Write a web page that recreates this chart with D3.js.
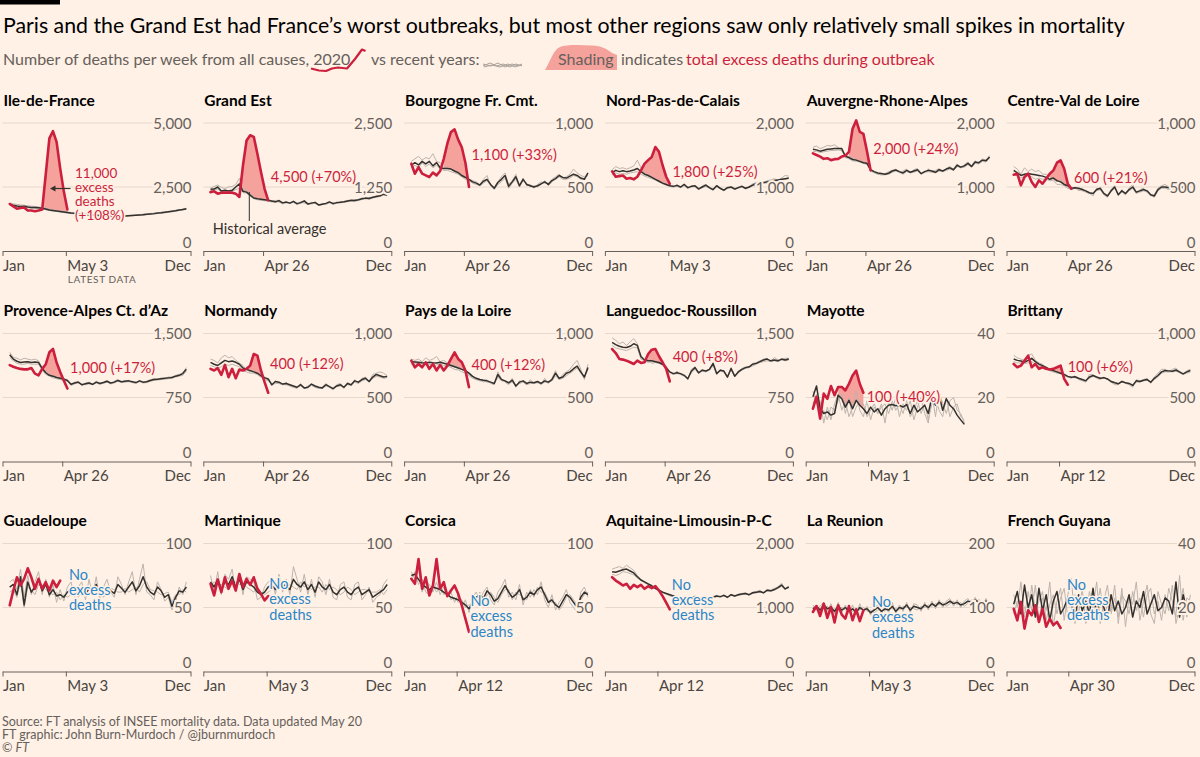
<!DOCTYPE html>
<html><head><meta charset="utf-8">
<script src="https://cdn.jsdelivr.net/npm/d3@7"></script>
<style>
html,body{margin:0;padding:0;background:#fff1e5;}
svg{display:block;}
text{font-family:Lato,"Noto Sans",sans-serif;}
</style></head><body>
<svg id="chart" width="1200" height="757"></svg>
<script>
// ---------------- DATA ----------------
const regions = ["Ile-de-France","Grand Est","Bourgogne Fr. Cmt.","Nord-Pas-de-Calais","Auvergne-Rhone-Alpes","Centre-Val de Loire",
  "Provence-Alpes Ct. d\u2019Az","Normandy","Pays de la Loire","Languedoc-Roussillon","Mayotte","Brittany",
  "Guadeloupe","Martinique","Corsica","Aquitaine-Limousin-P-C","La Reunion","French Guyana"];
const latestLabels = ["May 3","Apr 26","Apr 26","May 3","Apr 26","Apr 26","Apr 26","Apr 26","Apr 26","Apr 26","May 1","Apr 12",
  "May 3","May 3","Apr 12","Apr 12","May 3","Apr 30"];
const latestDates = ["2020-05-03","2020-04-26","2020-04-26","2020-05-03","2020-04-26","2020-04-26","2020-04-26","2020-04-26","2020-04-26","2020-04-26","2020-05-01","2020-04-12",
  "2020-05-03","2020-05-03","2020-04-12","2020-04-12","2020-05-03","2020-04-30"];
const yMax = [5000,2500,1000,2000,2000,1000,1500,1000,1000,1500,40,1000,100,100,100,2000,200,40];
const excessLabels = [["11,000","excess","deaths","(+108%)"],["4,500 (+70%)"],["1,100 (+33%)"],["1,800 (+25%)"],["2,000 (+24%)"],["600 (+21%)"],
  ["1,000 (+17%)"],["400 (+12%)"],["400 (+12%)"],["400 (+8%)"],["100 (+40%)"],["100 (+6%)"],
  ["No","excess","deaths"],["No","excess","deaths"],["No","excess","deaths"],["No","excess","deaths"],["No","excess","deaths"],["No","excess","deaths"]];
// first and last week index of the shaded outbreak (null = no excess)
const outbreakWeeks = [[9,16],[8,16],[9,16],[8,16],[10,16],[10,16],[9,15],[10,15],[9,15],[10,15],[7,14],[10,14],null,null,null,null,null,null];

// weekly deaths, 2020
const series2020 = [
 [1835,1745,1650,1680,1700,1580,1580,1550,1580,1620,3000,4400,4680,4260,3230,2330,1620],
 [1150,1165,1120,1140,1140,1140,1140,1120,1055,1670,2160,2260,2230,1900,1545,1215,990],
 [682,604,656,604,591,578,612,591,625,720,840,930,950,870,810,690,500],
 [1245,1160,1170,1180,1130,1140,1120,1160,1260,1365,1420,1470,1625,1550,1340,1160,1050],
 [1525,1500,1475,1440,1450,1420,1435,1440,1475,1490,1550,1910,2040,1860,1830,1560,1260],
 [596,604,513,578,604,539,500,552,526,565,604,630,690,708,643,526,487],
 [1130,1110,1095,1085,1080,1080,1095,1030,1010,1085,1140,1280,1320,1160,1050,950,855],
 [724,711,729,677,755,659,724,651,718,711,724,749,840,827,711,620,537],
 [788,736,762,736,775,724,762,711,755,711,749,801,853,801,775,711,581],
 [1318,1271,1202,1194,1182,1163,1143,1182,1155,1163,1260,1310,1318,1233,1163,1085,938],
 [16.5,20.2,13.4,21.2,19.6,23.6,20.7,23.3,23.3,22.2,24.3,26.9,28.4,24.3,21.5],
 [762,736,749,788,827,736,762,724,736,724,718,724,736,749,646,600],
 [51.7,63.3,73.6,67.2,72.4,80.6,73.6,64.6,72.4,64.6,69.8,63.3,71,65.9,71],
 [68.5,59.4,71.8,62,73.6,64.6,71,63.3,76.2,65.9,72.4,67.7,73.6,64.6,60.7,55.6,58.9],
 [72.4,68.5,87.9,64.6,73.6,59.4,67.2,87.9,64.6,69.8,58.9,63.3,67.2,60.7,51.7,41.3,31],
 [1473,1421,1385,1344,1370,1292,1354,1318,1354,1292,1333,1302,1333,1266,1178,1075,972],
 [93,102.3,86.8,106,83.7,100.8,76.5,103.4,88.9,82.7,102.3,80.1,97.2,78.6,95.6],
 [19.6,16,21.7,13.4,19.1,17.6,20.7,15.5,19.6,14,16.5,14.5,15.5,13.6]
];

// historical average
const avgSeries = [
 [1830,1790,1760,1740,1750,1720,1700,1700,1690,1670,1640,1600,1580,1560,1540,1520,1500,1480,1470,1450,1440,1430,1420,1410,1400,1390,1380,1380,1370,1370,1360,1360,1370,1380,1390,1400,1410,1420,1440,1450,1460,1480,1490,1510,1530,1550,1570,1600,1620,1650],
 [1205,1210,1250,1170,1185,1170,1185,1250,1310,1165,1150,1090,1035,1020,1010,1000,990,975,960,985,940,955,935,970,925,945,980,920,935,950,900,915,930,960,925,945,950,960,975,990,985,1000,1020,1035,1025,1050,1065,1080,1110,1095],
 [670,690,672,700,680,700,665,690,650,645,645,640,625,612,590,575,560,540,530,515,545,560,520,490,535,560,590,505,540,580,510,560,520,510,500,510,525,540,520,550,565,590,575,570,585,600,590,570,560,610],
 [1225,1260,1240,1255,1240,1250,1265,1290,1240,1200,1180,1150,1120,1090,1060,1040,1020,1010,1025,1000,1040,990,1010,1020,970,1000,1030,990,960,1020,980,950,990,1000,970,990,1010,980,1000,1030,1050,1060,1070,1080,1090,1100,1110,1120,1130,1140],
 [1590,1580,1560,1575,1590,1595,1600,1600,1600,1480,1460,1430,1420,1400,1380,1370,1270,1240,1220,1210,1200,1215,1250,1265,1240,1220,1260,1230,1250,1270,1210,1240,1260,1250,1230,1270,1250,1280,1300,1270,1340,1310,1330,1370,1320,1390,1380,1420,1410,1470],
 [630,610,590,600,605,600,595,590,585,575,560,570,550,540,520,510,490,495,490,480,470,455,450,480,490,450,430,470,500,440,470,450,480,500,460,470,480,470,440,430,480,500,500,495,490,490,500,500,510,505],
 [1250,1200,1175,1160,1165,1170,1160,1165,1160,1090,1040,1010,1000,985,975,965,950,905,920,930,900,910,920,905,930,915,925,940,920,930,950,935,940,945,935,925,945,930,935,950,960,965,970,975,980,985,1000,1010,1030,1080],
 [775,760,750,770,790,780,785,775,760,730,720,710,700,690,670,655,645,600,625,620,605,610,600,590,580,600,575,580,605,590,580,575,600,585,570,590,600,580,610,600,630,620,640,650,625,660,680,670,660,665],
 [780,778,775,772,770,775,772,770,775,768,760,750,740,730,720,710,690,665,650,640,635,630,620,610,680,640,630,615,635,590,620,630,610,620,615,625,610,630,620,640,690,650,660,690,700,725,745,700,660,735],
 [1395,1370,1350,1340,1335,1350,1380,1360,1230,1190,1180,1180,1170,1160,1140,1100,1050,1030,1040,1030,1010,970,1060,1100,1040,1070,1060,1080,1150,1030,1070,1060,990,1090,1000,1050,1080,1100,1110,1140,1150,1170,1190,1200,1180,1190,1180,1200,1190,1200],
 [20.2,23.6,16.5,15,15.5,14.5,15,20.7,19.6,17,19.1,16.5,19.1,17.6,16.5,15,17,15.5,16.5,14.5,16.5,17.6,17.8,17.4,17.6,17,17.8,15,17.6,15.5,16.5,17.6,15,20.2,17.6,20.7,16,19.6,17.6,16.5,14.5,13,11.6],
 [801,790,785,775,790,806,780,760,749,735,720,710,700,690,680,665,659,662,650,640,630,660,672,660,650,655,645,625,615,607,625,615,610,594,630,625,635,640,620,650,672,700,711,708,705,715,700,685,700,711],
 [66,68,60,74,52,70,62,66,72,63,68,60,64,59,60,58,62,64,61,62,66,60,65,63,68,60,62,66,63,61,68,65,62,66,70,63,67,74,66,62,60,66,63,58,60,51,58,63,62,66],
 [70,66,72,64,70,68,74,66,72,64,70,68,66,62,60,62,66,68,64,70,66,68,64,72,68,66,70,64,68,62,70,66,64,68,62,60,64,66,62,60,64,66,60,62,64,58,60,62,64,68],
 [75,76,72,68,66,64,66,65,64,62,60,58,57,56,54,52,49,54,58,60,57,63,60,55,57,62,67,62,58,60,64,56,58,62,60,64,66,60,54,56,52,50,55,60,58,54,50,58,62,60],
 [1560,1550,1570,1590,1600,1570,1540,1480,1430,1400,1370,1340,1300,1270,1240,1220,1200,1180,1160,1150,1140,1150,1160,1170,1150,1130,1160,1140,1160,1180,1170,1190,1160,1200,1180,1200,1210,1220,1200,1230,1240,1250,1230,1270,1260,1280,1310,1350,1290,1320],
 [98,102,96,104,98,100,94,102,96,100,94,98,92,100,96,98,92,96,100,94,98,96,102,94,100,98,104,96,102,100,98,104,100,106,102,108,104,106,110,106,108,104,106,110,108,112,108,106,110,104],
 [21,25,18,27,20,24,17,26,19,24,16,22,25,18,20,23,21,17,24,19,22,18,26,17,23,20,16,24,19,22,18,20,24,17,22,20,25,18,21,24,19,20,23,22,18,28,17,24,19,21]
];

// recent individual years (two of them)
const recentA = [
 [1880,1840,1820,1800,1790,1770,1750,1740,1720,1700,1680,1640,1610,1580,1560,1540,1520,1500,1480,1470,1450,1440,1430,1420,1410,1400,1390,1390,1380,1380,1370,1370,1380,1390,1400,1410,1420,1440,1450,1470,1480,1490,1510,1520,1540,1560,1590,1610,1640,1670],
 [1230,1260,1290,1240,1220,1250,1260,1300,1420,1200,1180,1110,1050,1030,1000,995,980,960,990,950,930,965,940,950,910,960,935,910,950,930,890,930,910,940,940,930,965,950,990,980,1000,990,1035,1020,1050,1040,1080,1070,1100,1120],
 [700,720,740,710,730,720,760,700,690,660,650,640,620,600,580,570,560,550,540,520,560,590,510,500,540,580,610,520,550,600,500,570,510,520,490,520,540,530,530,560,580,600,570,580,600,640,610,590,580,600],
 [1270,1320,1290,1300,1280,1300,1330,1420,1300,1220,1190,1160,1130,1100,1070,1040,1020,1000,1040,990,1050,980,1020,1000,960,1020,1040,980,950,1030,970,940,1000,990,960,1000,1020,970,1010,1050,1070,1080,1060,1100,1110,1130,1100,1140,1180,1170],
 [1620,1640,1600,1620,1650,1640,1660,1620,1560,1500,1470,1450,1430,1410,1390,1370,1280,1230,1200,1190,1210,1240,1260,1280,1220,1250,1280,1220,1270,1290,1200,1230,1280,1240,1260,1290,1240,1290,1320,1280,1360,1300,1350,1390,1330,1410,1360,1440,1420,1490],
 [660,640,600,650,620,640,620,630,600,600,580,560,540,560,520,500,480,500,470,490,460,450,430,490,480,440,420,480,510,430,480,440,490,520,450,480,490,460,430,440,490,510,520,500,500,490,510,530,520,520],
 [1280,1220,1210,1190,1210,1200,1190,1200,1180,1100,1050,1020,990,990,980,970,960,900,930,940,890,920,930,900,940,920,930,950,910,940,960,930,950,950,930,920,950,930,940,960,970,960,980,970,990,990,1010,1020,1040,1100],
 [800,790,770,810,830,810,820,790,770,750,720,700,710,680,660,650,640,590,630,610,600,620,590,580,570,610,570,590,600,580,570,580,610,580,560,600,610,570,620,590,640,610,650,660,620,680,690,700,690,670],
 [800,790,800,780,810,790,800,820,780,790,770,760,750,740,720,700,680,660,640,640,620,640,610,600,700,650,620,600,650,580,630,620,600,640,610,620,600,650,610,650,710,640,680,700,720,760,790,720,640,760],
 [1450,1420,1380,1400,1360,1400,1440,1380,1220,1170,1200,1150,1160,1150,1130,1120,1040,1020,1060,1020,1000,960,1080,1110,1030,1080,1050,1090,1140,1020,1080,1050,980,1100,990,1060,1090,1110,1100,1150,1160,1180,1200,1210,1170,1220,1190,1190,1210,1210],
 [22,18,19,12,17,13,18,21,16,19,14,17,22,16,14,19,13,17,15,18,12,19,16,20,14,18,16,19,13,17,20,15,12,21,14,22,18,15,19,20,16,15,12],
 [830,810,800,790,830,840,790,770,760,730,710,700,690,690,670,660,650,670,640,630,620,680,680,650,640,660,640,620,600,600,630,610,600,580,640,630,640,650,610,660,690,720,720,700,720,730,690,680,710,720],
 [70,72,64,80,58,75,60,70,78,60,72,58,68,54,64,55,66,70,58,66,70,56,72,60,74,56,66,72,62,58,74,68,60,70,78,60,72,84,62,60,56,70,64,55,58,48,54,66,60,70],
 [75,62,78,60,76,72,80,62,76,60,74,72,70,56,58,66,70,72,60,76,62,72,60,82,72,62,76,60,72,58,74,70,60,72,58,56,68,70,58,56,68,70,56,60,66,54,58,60,68,72],
 [78,72,80,62,70,68,62,70,60,66,58,62,54,60,50,56,46,58,62,56,62,66,56,52,62,66,72,58,62,56,68,52,62,58,64,60,70,56,50,60,48,54,58,64,54,50,46,62,66,58],
 [1600,1620,1640,1610,1660,1620,1580,1500,1440,1380,1360,1320,1290,1260,1230,1210,1180,1170,1150,1140,1130,1160,1150,1180,1140,1120,1170,1130,1170,1190,1160,1200,1150,1210,1170,1210,1220,1230,1190,1240,1250,1270,1220,1280,1270,1300,1320,1380,1280,1340],
 [104,96,102,108,94,106,90,108,92,104,90,104,88,106,92,102,88,100,104,90,102,92,108,90,104,94,108,92,106,104,94,108,96,110,98,112,100,110,114,102,112,100,110,114,104,116,104,102,114,100],
 [24,20,28,17,25,19,27,16,23,19,28,14,22,26,16,24,29,15,22,24,17,25,20,28,15,22,27,18,23,17,26,14,23,21,28,16,22,27,18,15,25,21,18,26,22,17,30,16,23,22]
];
const recentB = [
 [1790,1750,1720,1710,1720,1690,1670,1670,1660,1640,1610,1580,1560,1540,1520,1500,1480,1460,1450,1440,1420,1410,1400,1390,1380,1380,1370,1360,1360,1350,1350,1350,1360,1370,1380,1390,1400,1400,1420,1430,1440,1460,1470,1490,1510,1530,1550,1580,1600,1630],
 [1180,1190,1210,1150,1160,1140,1160,1200,1220,1140,1130,1070,1020,1000,990,980,975,960,950,970,920,940,930,950,910,930,960,910,920,935,890,905,920,945,910,930,940,950,960,975,970,985,1005,1020,1010,1035,1050,1065,1090,1080],
 [650,670,650,690,660,680,650,670,640,630,630,620,610,600,580,560,550,530,520,510,530,550,510,480,520,540,570,490,530,560,500,550,530,500,510,500,520,550,510,540,560,580,560,560,570,590,580,560,570,590],
 [1190,1220,1200,1210,1200,1220,1230,1240,1200,1170,1150,1130,1110,1080,1050,1030,1010,1000,1010,990,1020,980,1000,1010,960,990,1010,980,950,1000,970,940,980,990,960,980,1000,970,990,1020,1030,1050,1060,1060,1080,1090,1100,1110,1120,1130],
 [1550,1560,1540,1550,1560,1570,1570,1580,1570,1460,1440,1410,1400,1390,1370,1350,1250,1220,1200,1190,1190,1200,1230,1250,1230,1200,1240,1220,1230,1250,1200,1230,1240,1230,1220,1250,1240,1260,1280,1260,1320,1300,1310,1350,1310,1370,1360,1400,1390,1450],
 [610,590,570,580,590,580,560,570,560,560,550,550,520,520,510,490,480,490,480,470,460,450,450,470,480,440,430,460,490,440,460,440,470,490,450,460,470,460,440,420,470,490,490,480,480,480,490,490,500,490],
 [1220,1180,1150,1140,1140,1150,1140,1140,1140,1070,1020,1000,980,970,960,950,940,890,910,920,900,900,910,900,920,905,915,930,910,920,940,925,930,935,925,915,935,920,925,940,950,955,960,965,970,975,990,1000,1010,1060],
 [750,740,730,740,760,750,760,750,740,710,700,690,690,680,660,640,630,600,610,610,600,600,590,580,580,590,570,575,595,580,575,570,590,580,570,585,590,575,600,595,620,610,630,640,620,650,665,660,650,655],
 [760,770,760,765,755,760,750,755,760,750,745,735,720,715,700,690,670,650,640,630,630,620,615,605,660,630,625,610,620,590,610,620,600,610,610,615,605,620,615,630,670,640,650,670,690,710,730,690,650,720],
 [1360,1330,1320,1310,1300,1320,1340,1330,1200,1180,1160,1170,1160,1150,1130,1090,1050,1020,1030,1020,1000,980,1040,1080,1030,1060,1050,1070,1120,1030,1060,1050,1000,1070,1000,1040,1070,1090,1100,1120,1140,1160,1170,1180,1170,1180,1170,1190,1180,1190],
 [18,21,14,16,13,17,16,19,21,15,20,14,17,19,18,14,16,18,15,17,18,15,19,16,18,15,19,14,16,19,15,18,13,18,20,16,14,20,14,17,18,14,13],
 [780,770,770,765,770,780,760,745,735,720,710,700,695,685,675,660,655,655,645,640,635,650,665,655,650,650,645,630,620,610,620,615,610,600,620,620,630,635,620,640,660,690,700,700,700,705,695,680,690,700],
 [62,64,58,70,50,66,64,60,68,66,64,62,60,62,56,60,58,60,64,58,62,63,60,66,62,63,58,62,65,64,62,62,65,62,64,66,62,68,70,64,63,62,60,61,62,54,60,60,64,62],
 [66,70,68,68,66,64,70,70,68,68,66,64,62,66,62,60,62,64,68,66,70,64,68,66,64,70,66,68,64,66,66,62,68,64,66,64,60,62,66,64,60,62,64,64,62,62,62,64,60,64],
 [72,78,68,72,62,60,68,62,66,60,62,56,58,54,56,50,52,52,56,62,54,60,62,58,54,60,64,64,56,62,60,58,56,64,58,66,62,62,56,54,54,48,52,58,60,56,52,56,60,62],
 [1520,1500,1520,1560,1550,1530,1510,1460,1420,1390,1360,1330,1300,1260,1240,1220,1200,1180,1160,1150,1140,1140,1150,1160,1150,1130,1150,1140,1150,1170,1160,1180,1160,1190,1180,1190,1200,1210,1200,1220,1230,1240,1230,1260,1250,1270,1300,1330,1290,1310],
 [92,104,92,100,102,96,98,98,100,96,98,94,96,96,100,94,96,92,96,98,94,100,98,98,96,102,100,100,98,96,102,100,104,102,106,104,108,102,106,110,104,108,102,106,112,108,112,110,106,108],
 [18,22,22,20,17,27,19,22,25,16,21,24,18,23,26,17,19,24,18,26,15,21,23,20,26,17,21,19,27,15,24,22,18,25,19,23,17,24,26,18,22,16,24,19,27,15,20,26,17,24]
];

// ---------------- LAYOUT ----------------
const paper = "#fff1e5", red = "#cc1f3d", shadeCol = "#f5a29c", blue = "#2a86c8",
      dark = "#33302e", greyLine = "#bdb4ad", gridCol = "#e6d8cc", tickTextCol = "#66605c", axisTextCol = "#4a4542";
const panelW = 188, panelStep = 200.8, panelX0 = 2.5, plotH = 128;
const rowZero = [251, 461.5, 671.5];
// annotation anchor (relative to panel origin), line spacing and font size
const annoPos = [[72.5,-73.5,14,13.5],[67.5,-69.5,0,14.5],[67.5,-91,0,14.5],[67.5,-74.5,0,14.5],[67.5,-97.5,0,14.5],[67.5,-68,0,14.5],
  [67.5,-88.5,0,14.5],[66.7,-92.5,0,14.5],[67.4,-92,0,14.5],[67.8,-100,0,14.5],[61,-59.5,0,14.5],[61.2,-89.5,0,14.5],
  [66.5,-92,15.4,14.5],[66,-82.5,15.4,14.5],[66.4,-65.5,15.4,14.5],[66.9,-82,15.4,14.5],[66.3,-64.5,15.4,14.5],[60.5,-82,15.4,14.5]];

const svg = d3.select("#chart");
svg.append("rect").attr("width",1200).attr("height",757).attr("fill",paper);
svg.append("rect").attr("x",0).attr("y",0).attr("width",60).attr("height",4.5).attr("fill","#000");

// Title
svg.append("text").attr("x",3).attr("y",33).attr("font-size",21.3).attr("fill","#000")
  .text("Paris and the Grand Est had France\u2019s worst outbreaks, but most other regions saw only relatively small spikes in mortality");

// Subtitle with inline legend
const sub = svg.append("g").attr("font-size",16).attr("fill",tickTextCol);
sub.append("text").attr("x",3).attr("y",65).text("Number of deaths per week from all causes, 2020");
sub.append("path").attr("d","M311,68.5 L319,70.5 L326,71 L332,68.5 L338,67.5 L347,68.5 L355,59 L362,49.5 L365.5,51")
  .attr("fill","none").attr("stroke",red).attr("stroke-width",2.2).attr("stroke-linejoin","round");
sub.append("text").attr("x",371).attr("y",65).text("vs recent years:");
["M483,66 L490,63 L497,66 L503,64 L510,67 L516,64 L522,66","M483,64 L491,66 L498,63 L505,67 L512,64 L518,66 L522,65","M484,67 L492,65 L500,67 L508,64 L515,67 L522,64"]
  .forEach(d=>sub.append("path").attr("d",d).attr("fill","none").attr("stroke","#aaa29b").attr("stroke-width",1));
sub.append("path").attr("d","M545,70 C550,62 553,50 560,47 C566,44.5 580,45 592,45.5 C602,46 607,49 612,53 L617,55 L617,70 Z")
  .attr("fill",shadeCol);
sub.append("text").attr("x",558).attr("y",65).text("Shading");
sub.append("text").attr("x",621).attr("y",65).text("indicates");
sub.append("text").attr("x",686).attr("y",65).attr("fill",red).text("total excess deaths during outbreak");

// Scales shared
const x = d3.scaleTime().domain([new Date(2020,0,1), new Date(2020,11,31)]).range([0, panelW]);
const weekDate = i => d3.timeDay.offset(new Date(2020,0,1), 14 + 7*i);
const parseDate = d3.timeParse("%Y-%m-%d");
const fmt = d3.format(",");

regions.forEach((name, p) => {
  const col = p % 6, row = Math.floor(p / 6);
  const g = svg.append("g").attr("transform", `translate(${panelX0 + panelStep*col},${rowZero[row]})`);
  const y = d3.scaleLinear().domain([0, yMax[p]]).range([0, -plotH]);
  const ticks = [0, yMax[p]/2, yMax[p]];

  // title
  g.append("text").attr("x",1).attr("y",-145.5).attr("font-size",15.5).attr("font-weight",700)
    .attr("fill","#000").text(name);

  // gridlines
  g.selectAll("line.grid").data(ticks.slice(1)).join("line").attr("class","grid")
    .attr("x1",0).attr("x2",panelW).attr("y1",d=>y(d)).attr("y2",d=>y(d))
    .attr("stroke",gridCol).attr("stroke-width",1);

  const avg = avgSeries[p], r20 = series2020[p];
  const line = d3.line().x((d,i)=>x(weekDate(i))).y(d=>y(d));

  // shading of excess
  const ob = outbreakWeeks[p];
  if (ob) {
    const area = d3.area()
      .defined((d,i)=> i>=ob[0] && i<=ob[1])
      .x((d,i)=>x(weekDate(i)))
      .y0((d,i)=>y(avg[i]))
      .y1((d,i)=>y(Math.max(d, avg[i])));
    g.append("path").datum(r20).attr("d",area).attr("fill",shadeCol);
  }
  // recent years
  [recentA[p], recentB[p]].forEach(s => g.append("path").datum(s).attr("d",line)
    .attr("fill","none").attr("stroke",greyLine).attr("stroke-width",1).attr("stroke-linejoin","round"));
  // historical average
  g.append("path").datum(avg).attr("d",line).attr("fill","none").attr("stroke",dark)
    .attr("stroke-width",1.5).attr("stroke-linejoin","round");
  // 2020
  g.append("path").datum(r20).attr("d",line).attr("fill","none").attr("stroke",red)
    .attr("stroke-width",2.6).attr("stroke-linejoin","round").attr("stroke-linecap","round");

  // x axis
  const latest = parseDate(latestDates[p]);
  const tickVals = [new Date(2020,0,1), latest, new Date(2020,11,31)];
  const tickLbl = ["Jan", latestLabels[p], "Dec"];
  const ax = g.append("g").call(d3.axisBottom(x).tickValues(tickVals).tickSize(5).tickSizeOuter(0)
      .tickFormat((d,i)=>tickLbl[i]));
  ax.attr("font-family",null);
  ax.select(".domain").attr("stroke","#66605c");
  ax.selectAll(".tick line").attr("stroke","#66605c");
  ax.selectAll(".tick text").attr("font-size",15).attr("fill",axisTextCol)
    .attr("y",19.5).attr("dy",0)
    .attr("text-anchor",(d,i)=> i===2 ? "end" : "start")
    .attr("dx",(d,i)=> i===1 ? 1 : 0);
  if (p === 0) {
    g.append("text").attr("x", x(latest)+2).attr("y",32).attr("font-size",10).attr("letter-spacing",0.6)
      .attr("fill",tickTextCol).text("LATEST DATA");
  }

  // y tick labels
  g.selectAll("text.ytick").data(ticks).join("text").attr("class","ytick")
    .attr("x",panelW+1).attr("y",d=> d===0 ? -3.5 : y(d)+5.5)
    .attr("text-anchor","end").attr("font-size",15).attr("fill",tickTextCol)
    .attr("stroke",paper).attr("stroke-width",4).attr("paint-order","stroke")
    .text(d=>fmt(d));

  // annotation
  const [ax0, ay0, lh, fs] = annoPos[p];
  const isNo = excessLabels[p][0] === "No";
  const t = g.append("text").attr("x",ax0).attr("y",ay0).attr("font-size",fs)
    .attr("fill", isNo ? blue : red)
    .attr("stroke",paper).attr("stroke-width",3).attr("paint-order","stroke");
  excessLabels[p].forEach((s,k)=> t.append("tspan").attr("x",ax0).attr("y",ay0 + k*lh).text(s));

  if (p === 0) {
    g.append("line").attr("x1",68).attr("x2",50).attr("y1",-62.5).attr("y2",-62.5)
      .attr("stroke",dark).attr("stroke-width",1.2);
    g.append("path").attr("d","M47.5,-62.5 L53,-65.5 L53,-59.5 Z").attr("fill",dark);
  }
  if (p === 1) {
    g.append("line").attr("x1",46).attr("x2",46).attr("y1",-59).attr("y2",-30)
      .attr("stroke",dark).attr("stroke-width",1);
    g.append("text").attr("x",9.5).attr("y",-17).attr("font-size",14.5).attr("fill",dark)
      .attr("stroke",paper).attr("stroke-width",3).attr("paint-order","stroke").text("Historical average");
  }
});

// Footer
const foot = svg.append("g").attr("font-size",12.5).attr("fill",tickTextCol);
foot.append("text").attr("x",2).attr("y",725.5).text("Source: FT analysis of INSEE mortality data. Data updated May 20");
foot.append("text").attr("x",2).attr("y",738.5).text("FT graphic: John Burn-Murdoch / @jburnmurdoch");
const c = foot.append("text").attr("x",2).attr("y",751.5);
c.append("tspan").text("\u00a9 ");
c.append("tspan").attr("font-style","italic").text("FT");
</script>
</body></html>
